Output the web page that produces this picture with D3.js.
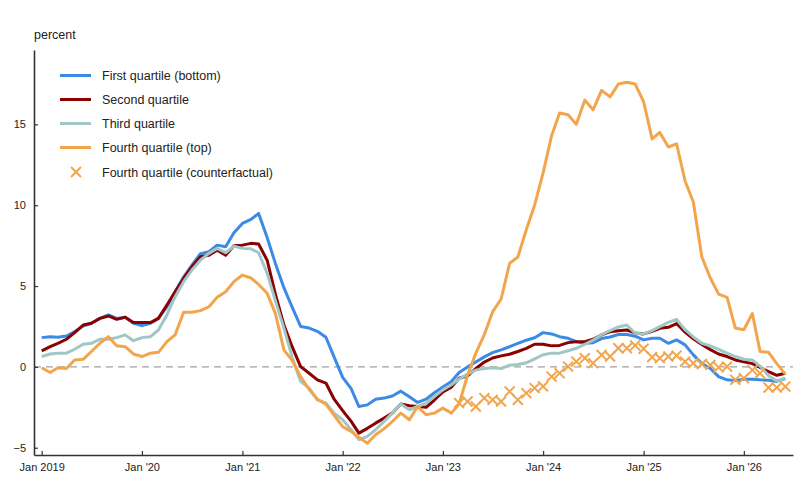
<!DOCTYPE html>
<html>
<head>
<meta charset="utf-8">
<script src="https://cdn.jsdelivr.net/npm/d3@7"></script>
<style>
  body { margin: 0; background: #fff; }
  svg { font-family: 'Liberation Sans', Arial, sans-serif; }
</style>
</head>
<body>
<div id="chart"></div>
<script>
// monthly observations, Jan 2019 .. Jun 2026
const months = d3.timeMonths(new Date(2019, 0, 1), new Date(2026, 6, 1));

const firstQuartile = [
  1.81, 1.87, 1.83, 1.91, 2.18, 2.53, 2.7, 3.0, 3.21, 3.0, 3.07, 2.7,
  2.55, 2.7, 3.0, 3.72, 4.65, 5.57, 6.3, 7.0, 7.12, 7.53, 7.43, 8.29,
  8.87, 9.12, 9.49, 8.0, 6.4, 4.9, 3.7, 2.5, 2.4, 2.2, 1.83, 0.6,
  -0.65, -1.35, -2.45, -2.35, -2.0, -1.93, -1.8, -1.5, -1.85, -2.2, -2.0, -1.6,
  -1.25, -0.9, -0.35, 0.0, 0.3, 0.62, 0.88, 1.05, 1.25, 1.45, 1.65, 1.8,
  2.12, 2.04, 1.87, 1.77, 1.56, 1.46, 1.5, 1.75, 1.85, 2.0, 2.0, 1.9,
  1.67, 1.77, 1.77, 1.46, 1.67, 1.36, 0.74, 0.2, -0.1, -0.6, -0.8, -0.85,
  -0.76, -0.76, -0.8, -0.82, -0.9, -0.72,
];

const secondQuartile = [
  0.99, 1.25, 1.46, 1.71, 2.12, 2.59, 2.7, 3.0, 3.15, 2.94, 3.07, 2.74,
  2.74, 2.74, 3.0, 3.83, 4.65, 5.47, 6.19, 6.81, 6.91, 7.22, 6.91, 7.49,
  7.53, 7.64, 7.6, 6.6, 4.5, 2.6, 1.25, 0.02, -0.39, -0.8, -1.0, -2.0,
  -2.7, -3.37, -4.1, -3.8, -3.48, -3.17, -2.86, -2.3, -2.4, -2.45, -2.5, -2.05,
  -1.55, -1.25, -0.7, -0.55, -0.1, 0.3, 0.55, 0.68, 0.78, 0.95, 1.15, 1.4,
  1.4, 1.3, 1.33, 1.5, 1.56, 1.56, 1.71, 1.98, 2.18, 2.24, 2.28, 2.1,
  2.04, 2.2, 2.39, 2.45, 2.68, 2.15, 1.74, 1.38, 1.07, 0.8, 0.64, 0.43,
  0.31, 0.2, -0.03, -0.29, -0.52, -0.39,
];

const thirdQuartile = [
  0.64, 0.8, 0.85, 0.85, 1.09, 1.4, 1.46, 1.71, 1.71, 1.81, 1.98, 1.62,
  1.81, 1.87, 2.28, 3.21, 4.34, 5.27, 5.99, 6.6, 7.02, 7.33, 7.06, 7.47,
  7.33, 7.3, 7.06, 5.8, 4.1, 2.4, 0.6, -0.9, -1.31, -2.04, -2.24, -2.86,
  -3.27, -3.89, -4.5, -4.3, -3.89, -3.37, -2.86, -2.3, -2.65, -2.45, -2.24, -1.83,
  -1.42, -1.11, -0.75, -0.45, -0.2, -0.1, -0.05, -0.1, 0.1, 0.15, 0.25, 0.5,
  0.75, 0.85, 0.85, 1.0, 1.15, 1.4, 1.65, 2.0, 2.25, 2.47, 2.59, 2.08,
  2.04, 2.24, 2.49, 2.75, 2.94, 2.3, 1.85, 1.46, 1.3, 1.09, 0.85, 0.64,
  0.47, 0.43, 0.05, -0.55, -0.88, -0.7,
];

const fourthQuartile = [
  -0.05, -0.35, -0.05, -0.1, 0.43, 0.47, 0.95, 1.46, 1.87, 1.3, 1.25, 0.8,
  0.64, 0.85, 0.9, 1.56, 1.98, 3.38, 3.38, 3.48, 3.72, 4.3, 4.65, 5.27,
  5.68, 5.5, 5.1, 4.55, 3.31, 1.05, 0.4, -0.6, -1.4, -2.0, -2.3, -3.0,
  -3.7, -3.99, -4.35, -4.72, -4.2, -3.82, -3.38, -2.86, -3.27, -2.45, -2.96, -2.86,
  -2.55, -2.86, -2.3, -0.5, 0.85, 2.0, 3.4, 4.2, 6.4, 6.8, 8.5, 10.0,
  12.0, 14.3, 15.7, 15.6, 15.0, 16.5, 15.9, 17.1, 16.7, 17.5, 17.6, 17.5,
  16.4, 14.1, 14.5, 13.6, 13.8, 11.5, 10.2, 6.8, 5.5, 4.5, 4.3, 2.4,
  2.3, 3.3, 0.95, 0.9, 0.2, -0.45,
];

// counterfactual starts Mar 2023
const counterfactualStart = new Date(2023, 2, 1);
const fourthCounterfactual = [
  -2.24, -2.14, -2.45, -1.93, -2.04, -2.14, -1.52, -2.04, -1.62, -1.31,
  -1.21, -0.6, -0.39, 0.02, 0.33, 0.54, 0.23, 0.74, 0.64, 1.15,
  1.15, 1.33, 1.12, 0.6, 0.54, 0.64, 0.7, 0.33, 0.23, 0.18,
  0.12, -0.03, 0.02, -0.8, -0.7, -0.2, -0.4, -1.28, -1.28, -1.22,
];

const yTicks = [-5, 0, 5, 10, 15];
const xTicks = d3.timeYears(new Date(2019, 0, 1), new Date(2026, 1, 1));

const seriesNames = [
  'First quartile (bottom)',
  'Second quartile',
  'Third quartile',
  'Fourth quartile (top)',
];
const counterfactualName = 'Fourth quartile (counterfactual)';
const colors = ['#3b8be6', '#8b0000', '#a0c7c5', '#f2a54c'];

const drawChart = () => {
  const totalWidth = 800;
  const totalHeight = 500;

  const xScale = d3
    .scaleTime()
    .domain([new Date(2018, 11, 4), new Date(2026, 5, 29)])
    .range([34, 793]);

  const yScale = d3.scaleLinear().domain([-5.45, 19.6]).range([455, 50]);

  const svg = d3
    .select('#chart')
    .append('svg')
    .attr('width', totalWidth)
    .attr('height', totalHeight);

  // zero line
  svg
    .append('line')
    .attr('x1', xScale.range()[0])
    .attr('x2', xScale.range()[1])
    .attr('y1', yScale(0))
    .attr('y2', yScale(0))
    .attr('stroke', '#a0a0a0')
    .attr('stroke-width', 1.3)
    .attr('stroke-dasharray', '7,5');

  // y axis
  svg
    .append('g')
    .attr('transform', `translate(${xScale.range()[0]},0)`)
    .call(d3.axisLeft(yScale).tickValues(yTicks).tickSizeInner(-4).tickSizeOuter(0).tickPadding(8))
    .call((g) => g.select('.domain').attr('stroke', '#333').attr('stroke-width', 1.6))
    .call((g) => g.selectAll('.tick line').attr('stroke', '#333').attr('stroke-width', 1.2))
    .call((g) => g.selectAll('text').attr('font-size', 11).attr('fill', '#222'));

  // x axis
  svg
    .append('g')
    .attr('transform', `translate(0,${yScale.range()[0]})`)
    .call(
      d3
        .axisBottom(xScale)
        .tickValues(xTicks)
        .tickSizeInner(-4)
        .tickSizeOuter(0)
        .tickPadding(8)
        .tickFormat((d, i) => (i === 0 ? d3.timeFormat('Jan %Y')(d) : d3.timeFormat("Jan '%y")(d)))
    )
    .call((g) => g.select('.domain').attr('stroke', '#333').attr('stroke-width', 1.6))
    .call((g) => g.selectAll('.tick line').attr('stroke', '#333').attr('stroke-width', 1.2))
    .call((g) => g.selectAll('text').attr('font-size', 11).attr('fill', '#222'));

  // unit label
  svg
    .append('text')
    .attr('x', 34)
    .attr('y', 39)
    .attr('font-size', 12.5)
    .attr('fill', '#222')
    .text('percent');

  const line = d3
    .line()
    .x((d) => xScale(d.date))
    .y((d) => yScale(d.value));

  const allSeries = [firstQuartile, secondQuartile, thirdQuartile, fourthQuartile];

  allSeries.forEach((values, i) => {
    const points = values.map((v, j) => ({ date: months[j], value: v }));
    svg
      .append('path')
      .datum(points)
      .attr('fill', 'none')
      .attr('stroke', colors[i])
      .attr('stroke-width', 3)
      .attr('stroke-linejoin', 'round')
      .attr('d', line);
  });

  // counterfactual markers
  const crossSymbol = d3.symbol().type(d3.symbolX).size(66);
  const cfPoints = fourthCounterfactual.map((v, j) => ({
    date: d3.timeMonth.offset(counterfactualStart, j),
    value: v,
  }));
  svg
    .append('g')
    .selectAll('path')
    .data(cfPoints)
    .join('path')
    .attr('transform', (d) => `translate(${xScale(d.date)},${yScale(d.value)})`)
    .attr('d', crossSymbol)
    .attr('fill', 'none')
    .attr('stroke', colors[3])
    .attr('stroke-width', 2);

  // legend
  const legend = svg.append('g').attr('transform', 'translate(60,75.5)');
  seriesNames.forEach((name, i) => {
    legend
      .append('line')
      .attr('x1', 0)
      .attr('x2', 31)
      .attr('y1', i * 24)
      .attr('y2', i * 24)
      .attr('stroke', colors[i])
      .attr('stroke-width', 3);
    legend
      .append('text')
      .attr('x', 42)
      .attr('y', i * 24 + 4.5)
      .attr('font-size', 12.5)
      .attr('fill', '#222')
      .text(name);
  });
  legend
    .append('path')
    .attr('transform', `translate(16,${4 * 24 + 0.5})`)
    .attr('d', crossSymbol)
    .attr('fill', 'none')
    .attr('stroke', colors[3])
    .attr('stroke-width', 2);
  legend
    .append('text')
    .attr('x', 42)
    .attr('y', 4 * 24 + 5)
    .attr('font-size', 12.5)
    .attr('fill', '#222')
    .text(counterfactualName);
};

drawChart();
</script>
</body>
</html>
